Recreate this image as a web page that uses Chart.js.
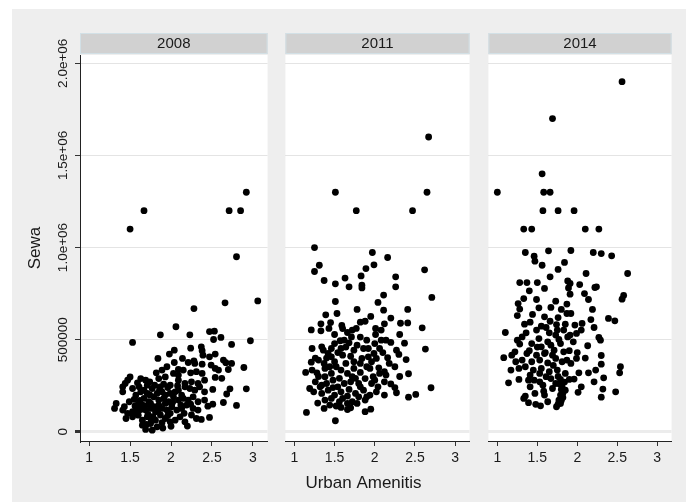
<!DOCTYPE html>
<html>
<head>
<meta charset="utf-8">
<script src="https://cdn.jsdelivr.net/npm/chart.js@4.4.1/dist/chart.umd.min.js"></script>
<style>
  html, body { margin: 0; padding: 0; background: #ffffff; }
  #wrap { position: relative; width: 686px; height: 502px; overflow: hidden; }
  #bg { position: absolute; left: 12px; top: 9px; right: 0; bottom: 0; background: #eeeeee; }
  canvas { position: absolute; top: 0; }
</style>
</head>
<body>
<div id="wrap">
  <div id="bg"></div>
  <canvas id="p0" width="271" height="502" style="left:0px"></canvas>
  <canvas id="p1" width="191" height="502" style="left:282px"></canvas>
  <canvas id="p2" width="190" height="502" style="left:485px"></canvas>
</div>
<script>
// Panels (survey years)
const years = ['2008', '2011', '2014'];

// Axis ticks and titles
const xTickValues = [1, 1.5, 2, 2.5, 3];
const xTickLabels = ['1', '1.5', '2', '2.5', '3'];
const yTickValues = [0, 500000, 1000000, 1500000, 2000000];
const yTickLabels = ['0', '500000', '1.0e+06', '1.5e+06', '2.0e+06'];
const xTitle = 'Urban Amenitis';
const yTitle = 'Sewa';

// Urban amenities index vs. rent (Sewa), one array of [x, y] per year
const points2008 = [
  [1.67,1200000],[1.50,1100000],[2.71,1200000],[2.85,1200000],[2.92,1300000],[2.80,950000],[3.06,710000],[2.66,700000],
  [2.28,669000],[2.06,570000],[1.87,526000],[2.23,526000],[2.47,544000],[2.53,546000],[2.61,512000],[2.52,501000],
  [2.97,494000],[2.74,474000],[1.53,485000],[2.37,461000],[2.24,454000],[2.04,443000],[1.98,422000],[1.84,398000],
  [2.14,398000],[2.28,385000],[2.21,376000],[2.38,440000],[2.39,416000],[2.54,422000],[2.64,389000],[2.67,375000],
  [2.74,371000],[2.89,349000],[2.04,376000],[1.95,353000],[1.89,335000],[2.09,338000],[2.38,367000],[2.49,362000],
  [2.54,344000],[2.58,335000],[2.70,338000],[1.82,320000],[2.09,308000],[2.24,320000],[2.31,326000],[2.38,317000],
  [2.54,295000],[2.62,290000],[1.50,298000],[1.47,280000],[1.44,262000],[1.63,289000],[1.69,280000],[1.85,289000],
  [1.74,271000],[1.80,253000],[2.09,280000],[2.17,262000],[2.25,271000],[2.33,262000],[2.41,280000],
  [1.41,217000],[1.53,235000],[1.61,244000],[1.67,226000],[1.77,235000],[1.89,217000],[1.99,208000],[2.09,226000],
  [2.17,244000],[2.23,235000],[2.29,226000],[2.35,244000],[2.41,217000],[2.51,230000],[2.72,233000],[2.92,233000],
  [2.68,205000],[1.33,154000],[1.31,127000],[1.43,136000],[1.49,163000],[1.55,176000],[1.60,150000],[1.67,181000],
  [1.73,163000],[1.79,190000],[1.85,172000],[1.91,181000],[1.97,163000],[2.03,190000],[2.09,172000],[2.15,181000],
  [2.21,172000],[2.27,190000],[2.33,163000],[2.41,172000],[2.45,139000],[2.51,150000],[2.64,159000],[2.80,143000],
  [1.45,72000],[1.53,81000],[1.59,100000],[1.65,63000],[1.71,81000],[1.69,13000],[1.75,45000],[1.81,63000],
  [1.87,91000],[1.93,72000],[1.99,100000],[2.05,63000],[2.11,81000],[2.17,54000],[2.20,31000],[2.25,91000],
  [2.31,72000],[2.37,67000],[2.47,78000],[1.63,121000],[1.69,118000],[1.75,127000],[1.81,109000],[1.89,127000],
  [1.95,118000],[2.01,136000],[2.07,118000],[2.13,127000],[2.19,145000],[2.27,127000],[2.33,118000],
  [1.57,199000],[1.63,217000],[1.71,208000],[1.83,208000],[1.93,199000],[2.05,217000],[2.13,199000],[1.75,154000],
  [1.79,136000],[1.85,145000],[1.93,154000],[1.65,145000],[1.59,127000],[1.53,109000],[1.47,100000],[1.41,118000],
  [1.83,27000],[1.77,9000],[1.89,49000],[1.99,54000],[1.65,36000],[1.91,259000],[1.99,253000],[2.03,317000],
  [2.15,335000],[2.29,371000],[2.47,407000],[1.93,298000],[1.71,253000],[1.59,266000],[1.41,244000],[1.87,244000],
  [1.72,95000],[1.78,82000],[1.84,118000],[1.96,88000],[2.02,160000],[1.62,170000],[1.68,140000],[1.74,200000],
  [1.86,230000],[1.96,240000],[2.08,250000],[2.12,145000],[1.56,140000],[1.60,90000],[1.76,60000],[2.16,100000],
  [2.24,150000],[1.70,40000],[1.90,20000],[2.00,30000]
];

const points2011 = [
  [2.67,1600000],[1.51,1300000],[2.65,1300000],[1.77,1200000],[2.47,1200000],[1.25,1000000],[1.97,973000],[2.16,946000],
  [1.99,906000],[1.31,904000],[1.25,870000],[1.89,886000],[2.62,879000],[1.83,846000],[1.37,821000],[1.63,834000],
  [2.26,841000],[1.51,803000],[1.68,787000],[1.84,796000],[1.84,781000],[2.26,787000],[2.71,729000],[2.11,742000],
  [2.04,702000],[1.51,707000],[1.78,664000],[2.11,660000],[2.41,664000],[1.39,635000],[1.53,642000],[1.95,626000],
  [2.20,617000],[1.33,586000],[1.45,593000],[1.59,577000],[1.82,595000],[2.12,586000],[2.32,589000],[2.41,591000],
  [2.59,564000],[1.21,553000],[1.33,548000],[1.43,561000],[1.50,528000],[1.66,539000],[1.71,515000],[1.77,561000],
  [1.82,514000],[2.01,561000],[2.01,528000],[2.08,497000],[2.14,497000],[2.20,485000],[2.31,528000],[2.37,481000],
  [2.63,449000],[1.22,452000],[1.34,461000],[1.36,443000],[1.46,452000],[1.57,494000],[1.58,452000],[1.68,483000],
  [1.74,443000],[1.86,452000],[1.92,452000],[1.99,425000],[2.06,452000],[2.16,402000],[2.27,443000],[2.39,392000],
  [1.21,378000],[1.30,389000],[1.37,371000],[1.46,407000],[1.50,380000],[1.60,416000],[1.64,371000],[1.74,380000],
  [1.84,398000],[1.92,407000],[2.02,398000],[1.14,322000],[1.22,335000],[1.28,320000],[1.38,344000],[1.46,317000],
  [1.52,353000],[1.58,335000],[1.66,317000],[1.74,344000],[1.82,322000],[1.90,353000],[1.98,299000],[2.05,347000],
  [2.12,326000],[2.14,308000],[2.31,300000],[2.42,315000],[1.19,235000],[1.26,271000],[1.32,244000],[1.40,262000],
  [1.48,280000],[1.54,244000],[1.62,262000],[1.70,271000],[1.80,262000],[1.88,289000],[1.96,262000],[2.04,244000],
  [2.12,271000],[2.25,240000],[2.27,212000],[2.70,239000],[1.24,217000],[1.34,208000],[1.42,226000],[1.50,199000],
  [1.58,217000],[1.66,194000],[1.76,208000],[1.86,226000],[1.94,199000],[2.02,217000],[2.12,199000],[2.42,188000],
  [2.51,203000],[1.29,156000],[1.38,172000],[1.46,181000],[1.56,163000],[1.66,154000],[1.72,163000],[1.78,154000],
  [1.88,172000],[1.37,127000],[1.58,132000],[1.66,121000],[1.88,109000],[1.95,123000],[1.15,105000],[1.51,60000],
  [1.42,425000],[1.50,479000],[1.62,497000],[1.72,552000],[1.90,497000],[2.00,479000],[2.08,552000],[1.38,299000],
  [1.56,290000],[1.72,299000],[1.44,353000],[1.82,371000],[1.94,344000],[2.18,371000],[2.25,353000],[2.06,317000],
  [1.82,244000],[1.90,190000],[1.60,181000],[1.44,145000],[1.34,253000],[1.40,400000],[1.54,430000],[1.64,460000],
  [1.70,410000],[1.78,470000],[1.96,380000],[2.10,430000],[1.30,300000],[1.48,240000],[1.68,230000],[1.76,290000],
  [2.00,280000],[2.20,260000],[1.52,140000],[1.70,130000],[1.80,190000],[2.30,420000],[1.26,400000],[1.60,560000],
  [1.88,600000]
];

const points2014 = [
  [2.56,1900000],[1.69,1700000],[1.56,1400000],[1.00,1300000],[1.58,1300000],[1.66,1300000],[1.57,1200000],[1.76,1200000],
  [1.96,1200000],[1.33,1100000],[1.43,1100000],[2.10,1100000],[2.27,1100000],[1.35,973000],[1.64,982000],[1.92,984000],
  [2.20,973000],[2.30,967000],[2.43,955000],[1.46,953000],[1.47,926000],[1.56,904000],[1.84,919000],[1.76,881000],
  [2.63,859000],[2.11,859000],[1.66,841000],[1.28,810000],[1.37,810000],[1.50,810000],[1.88,819000],[1.91,805000],
  [2.03,799000],[1.40,765000],[1.59,778000],[1.89,781000],[2.22,783000],[2.24,787000],[2.09,750000],[1.33,723000],
  [1.49,718000],[1.91,747000],[2.14,718000],[2.58,740000],[2.56,720000],[1.26,696000],[1.28,666000],[1.52,673000],
  [1.67,675000],[1.80,664000],[1.87,693000],[1.73,709000],[1.87,642000],[1.92,642000],[2.19,664000],[1.25,631000],
  [1.44,637000],[1.76,620000],[1.34,584000],[1.41,595000],[1.55,573000],[1.61,566000],[1.74,582000],[1.85,584000],
  [2.06,588000],[2.17,609000],[2.39,615000],[2.47,602000],[1.10,539000],[1.36,537000],[1.49,552000],[1.65,537000],
  [1.73,525000],[1.83,552000],[1.91,525000],[1.99,534000],[2.05,552000],[2.21,566000],[1.25,497000],[1.52,506000],
  [1.63,488000],[1.77,501000],[1.88,515000],[2.27,512000],[2.29,497000],[1.28,476000],[1.55,461000],[1.67,470000],
  [1.79,479000],[2.13,467000],[1.22,434000],[1.37,425000],[1.49,416000],[1.59,425000],[1.69,416000],[2.00,430000],
  [1.08,402000],[1.18,416000],[1.31,389000],[1.43,380000],[1.53,389000],[1.63,374000],[1.73,398000],[1.81,380000],
  [1.92,371000],[1.99,398000],[2.30,414000],[2.30,367000],[2.54,353000],[1.17,335000],[1.27,344000],[1.35,353000],
  [1.45,335000],[1.55,344000],[1.65,326000],[1.75,335000],[2.02,320000],[2.14,320000],[2.23,335000],[2.53,320000],
  [1.14,266000],[1.27,284000],[1.39,280000],[1.53,271000],[1.67,289000],[1.79,284000],[1.90,284000],[1.96,286000],
  [2.21,271000],[2.33,293000],[2.05,244000],[1.41,244000],[1.57,253000],[1.69,235000],[1.81,244000],[2.32,232000],
  [2.01,214000],[1.35,194000],[1.47,208000],[1.59,199000],[1.79,199000],[2.30,188000],[2.48,217000],[1.39,158000],
  [1.48,149000],[1.54,141000],[1.74,136000],[1.77,172000],[1.82,186000],[1.33,181000],[1.71,443000],[1.83,434000],
  [1.43,479000],[1.31,515000],[1.95,488000],[1.75,552000],[1.59,624000],[1.97,579000],[1.61,299000],[1.73,262000],
  [1.85,226000],[1.63,163000],[1.79,154000],[1.53,317000],[1.41,308000],[1.23,380000],[1.87,389000],[1.85,317000],
  [1.80,230000],[1.78,260000],[1.82,210000],[1.76,300000],[1.84,270000],[1.80,170000],[1.76,150000],[1.60,430000],
  [1.50,460000],[1.40,440000],[1.66,600000],[1.90,440000],[2.10,400000],[1.70,360000],[1.46,280000],[1.58,220000]
];

const series = [points2008, points2011, points2014];

const FONT = '"Liberation Sans", Arial, sans-serif';
const INK = '#1a1a1a';

// White plot region and the grey strip carrying the panel's year
const panelDecor = {
  id: 'panelDecor',
  beforeDraw(chart, args, opts) {
    const { ctx, chartArea: a } = chart;
    ctx.save();
    ctx.fillStyle = '#ffffff';
    ctx.fillRect(a.left, a.top, a.right - a.left, a.bottom - a.top);
    ctx.fillStyle = '#d1d1d1';
    ctx.fillRect(a.left, 33, a.right - a.left, 21);
    ctx.strokeStyle = '#d2e0e6';
    ctx.lineWidth = 1;
    ctx.strokeRect(a.left + 0.5, 33.5, a.right - a.left - 1, 20);
    ctx.fillStyle = INK;
    ctx.font = '15px ' + FONT;
    ctx.textAlign = 'center';
    ctx.textBaseline = 'middle';
    ctx.fillText(opts.label, (a.left + a.right) / 2, 44);
    ctx.restore();
  }
};

// Rotated y tick labels (first panel) and the shared x axis title (middle panel)
const axisText = {
  id: 'axisText',
  afterDraw(chart, args, opts) {
    const { ctx } = chart;
    ctx.save();
    ctx.fillStyle = INK;
    ctx.textAlign = 'center';
    ctx.textBaseline = 'middle';
    if (opts.yLabels) {
      const y = chart.scales.y;
      ctx.font = '13.5px ' + FONT;
      yTickValues.forEach((v, i) => {
        ctx.save();
        ctx.translate(63, y.getPixelForValue(v));
        ctx.rotate(-Math.PI / 2);
        ctx.fillText(yTickLabels[i], 0, 0);
        ctx.restore();
      });
    }
    if (opts.xTitleAt !== undefined) {
      ctx.font = '17px ' + FONT;
      ctx.fillText(xTitle, opts.xTitleAt, 483);
    }
    ctx.restore();
  }
};

const panelLeft = [0, 282, 485];

function makePanel(i) {
  const first = i === 0;
  return new Chart(document.getElementById('p' + i), {
    type: 'scatter',
    data: {
      datasets: [{
        data: series[i].map(p => ({ x: p[0], y: p[1] })),
        pointRadius: 3.4,
        pointHoverRadius: 3.4,
        pointBackgroundColor: '#000000',
        pointBorderWidth: 0,
        showLine: false
      }]
    },
    options: {
      responsive: false,
      animation: false,
      events: [],
      layout: { padding: { top: 55, left: 0, right: 0, bottom: 0 } },
      plugins: {
        legend: { display: false },
        tooltip: { enabled: false },
        panelDecor: { label: years[i] },
        axisText: { yLabels: first, xTitleAt: i === 1 ? 363.5 - panelLeft[1] : undefined }
      },
      scales: {
        x: {
          type: 'linear',
          position: 'bottom',
          min: 0.888,
          max: 3.18,
          afterBuildTicks: s => { s.ticks = xTickValues.map(v => ({ value: v })); },
          afterFit: s => { s.height = 61; },
          ticks: {
            autoSkip: false,
            maxRotation: 0,
            padding: 4,
            color: INK,
            font: { family: FONT, size: 14 },
            callback: v => xTickLabels[xTickValues.indexOf(v)]
          },
          grid: { drawOnChartArea: false, drawTicks: true, tickLength: 5, tickColor: '#333333', tickWidth: 1 },
          border: { display: true, color: '#222222', width: 1 },
          title: { display: false }
        },
        y: {
          type: 'linear',
          position: 'left',
          min: -50000,
          max: 2045000,
          afterBuildTicks: s => { s.ticks = yTickValues.map(v => ({ value: v })); },
          afterFit: s => { s.width = first ? 80 : 0; },
          ticks: { display: false },
          grid: {
            drawOnChartArea: true,
            drawTicks: first,
            tickLength: 5,
            tickColor: '#333333',
            color: c => (c.tick && c.tick.value === 0) ? '#ececec' : '#e4e4e4',
            lineWidth: c => (c.tick && c.tick.value === 0) ? 3 : 1
          },
          border: { display: first, color: '#222222', width: 1 },
          title: {
            display: first,
            text: yTitle,
            color: INK,
            font: { family: FONT, size: 17 },
            padding: { top: 25, bottom: 0 }
          }
        }
      }
    },
    plugins: [panelDecor, axisText]
  });
}

years.forEach((_, i) => makePanel(i));
</script>
</body>
</html>
